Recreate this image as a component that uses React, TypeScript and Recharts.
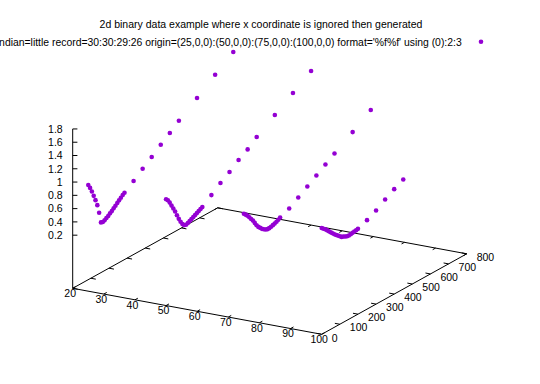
import React from 'react';
import { ScatterChart, Scatter, XAxis, YAxis, ReferenceLine } from 'recharts';

// ---- data ----
const recordX = [25, 50, 75, 100];
const yCoords = [0, 10, 20, 30, 40, 50, 60, 70, 80, 90, 100, 110, 120, 130, 140, 150, 160, 170, 180, 190, 200, 250, 300, 350, 400, 450, 500, 600, 700, 800];
const z1 = [1.0, 0.94, 0.87, 0.79, 0.71, 0.62, 0.49, 0.33, 0.32, 0.33, 0.35, 0.365, 0.39, 0.41, 0.435, 0.46, 0.485, 0.51, 0.535, 0.56, 0.58, 0.68, 0.79, 0.89, 1.0, 1.1, 1.21, 1.4, 1.6, 1.79];
const z2 = [1.0, 0.97, 0.92, 0.86, 0.8, 0.74, 0.67, 0.6, 0.54, 0.49, 0.46, 0.45, 0.46, 0.475, 0.49, 0.505, 0.52, 0.535, 0.55, 0.565, 0.58, 0.685, 0.79, 0.88, 0.985, 1.07, 1.18, 1.36, 1.54, 1.72];
const z3 = [1.0, 0.97, 0.94, 0.9, 0.86, 0.82, 0.77, 0.72, 0.68, 0.65, 0.62, 0.6, 0.58, 0.57, 0.57, 0.575, 0.585, 0.595, 0.605, 0.62, 0.64, 0.7, 0.79, 0.88, 0.97, 1.06, 1.15, 1.32, 1.5];
const z4 = [1.0, 0.975, 0.95, 0.92, 0.89, 0.86, 0.83, 0.8, 0.775, 0.75, 0.725, 0.7, 0.69, 0.675, 0.665, 0.66, 0.665, 0.67, 0.675, 0.68, 0.685, 0.74, 0.81, 0.9, 0.98, 1.05];
const zRecords = [z1, z2, z3, z4];

const xTicks = [20, 30, 40, 50, 60, 70, 80, 90, 100];
const yTicks = [0, 100, 200, 300, 400, 500, 600, 700, 800];
const zTicks = [0.2, 0.4, 0.6, 0.8, 1, 1.2, 1.4, 1.6, 1.8];
const zTickLabels = ['0.2', '0.4', '0.6', '0.8', '1', '1.2', '1.4', '1.6', '1.8'];

const titleText = '2d binary data example where x coordinate is ignored then generated';
const legendText = "'binary2' binary endian=little record=30:30:29:26 origin=(25,0,0):(50,0,0):(75,0,0):(100,0,0) format='%f%f' using (0):2:3";

// ---- view (projection) ----
const X_MIN = 20, X_MAX = 100, Y_MIN = 0, Y_MAX = 800, Z_BASE = -0.6, Z_TOP = 1.8;
const ORIGIN_PX = 72.7, ORIGIN_PY = 288.3;
const XX = 3.1125, XY = 0.575, YX = 0.18125, YY = 0.1006, ZS = 66.4;

const proj = (x: number, y: number, z: number) => ({
  px: ORIGIN_PX + (x - X_MIN) * XX + y * YX,
  py: ORIGIN_PY + (x - X_MIN) * XY - y * YY - (z - Z_BASE) * ZS,
});

const W = 540, H = 384;
const COLOR = '#9400d3';
const FONT = "'Liberation Sans', Arial, Helvetica, sans-serif";
const FS = 10.5;

const points = recordX.flatMap((x, i) =>
  zRecords[i].map((z, j) => proj(x, yCoords[j], z))
);

type Seg = { a: { px: number; py: number }; b: { px: number; py: number } };
const segs: Seg[] = [];
// base plane border
const c00 = proj(X_MIN, Y_MIN, Z_BASE), c10 = proj(X_MAX, Y_MIN, Z_BASE);
const c11 = proj(X_MAX, Y_MAX, Z_BASE), c01 = proj(X_MIN, Y_MAX, Z_BASE);
segs.push({ a: c00, b: c10 }, { a: c10, b: c11 }, { a: c11, b: c01 }, { a: c01, b: c00 });
// z axis
segs.push({ a: c00, b: proj(X_MIN, Y_MIN, Z_TOP) });
// x ticks (front and back)
xTicks.forEach((t) => {
  segs.push({ a: proj(t, Y_MIN, Z_BASE), b: proj(t, Y_MIN + 16, Z_BASE) });
  segs.push({ a: proj(t, Y_MAX, Z_BASE), b: proj(t, Y_MAX - 16, Z_BASE) });
});
// y ticks (right and left)
yTicks.forEach((t) => {
  segs.push({ a: proj(X_MAX, t, Z_BASE), b: proj(X_MAX - 1.6, t, Z_BASE) });
  segs.push({ a: proj(X_MIN, t, Z_BASE), b: proj(X_MIN + 1.6, t, Z_BASE) });
});
// z ticks
zTicks.forEach((t) => {
  const p = proj(X_MIN, Y_MIN, t);
  segs.push({ a: p, b: { px: p.px + 4.7, py: p.py } });
});

type Lbl = { px: number; py: number; text: string; anchor: string; fs: number };
const labels: Lbl[] = [];
xTicks.forEach((t) => {
  const p = proj(t, Y_MIN, Z_BASE);
  labels.push({ px: p.px - 2.5, py: p.py + 8.7, text: String(t), anchor: 'middle', fs: FS });
});
yTicks.forEach((t) => {
  const p = proj(X_MAX, t, Z_BASE);
  labels.push({ px: p.px + 10, py: p.py + 7.2, text: String(t), anchor: 'start', fs: FS });
});
zTicks.forEach((t, i) => {
  const p = proj(X_MIN, Y_MIN, t);
  labels.push({ px: p.px - 10, py: p.py + 3.8, text: zTickLabels[i], anchor: 'end', fs: FS });
});
labels.push({ px: 261, py: 27.5, text: titleText, anchor: 'middle', fs: FS });
labels.push({ px: 461.7, py: 45.8, text: legendText, anchor: 'end', fs: 10.4 });

const legendMarker = [{ px: 481, py: 41.7 }];

const TextShape = (props: any) => {
  const { cx, cy, payload } = props;
  return (
    <text x={cx} y={cy} textAnchor={payload.anchor} fontFamily={FONT} fontSize={payload.fs} fill="#000">
      {payload.text}
    </text>
  );
};

const Dot = (props: any) => <circle cx={props.cx} cy={props.cy} r={2.3} fill={COLOR} />;

export default function App() {
  return (
    <div style={{ position: 'absolute', left: 0, top: 0, width: W, height: H, background: '#fff' }}>
      <ScatterChart width={W} height={H} margin={{ top: 0, right: 0, bottom: 0, left: 0 }}>
        <XAxis type="number" dataKey="px" domain={[0, W]} allowDataOverflow hide />
        <YAxis type="number" dataKey="py" domain={[0, H]} reversed allowDataOverflow hide />
        {segs.map((s, i) => (
          <ReferenceLine
            key={i}
            segment={[{ x: s.a.px, y: s.a.py }, { x: s.b.px, y: s.b.py }]}
            stroke="#000"
            strokeWidth={1}
            ifOverflow="visible"
          />
        ))}
        <Scatter data={labels} shape={TextShape} isAnimationActive={false} />
        <Scatter data={points} shape={Dot} isAnimationActive={false} />
        <Scatter data={legendMarker} shape={Dot} isAnimationActive={false} />
      </ScatterChart>
    </div>
  );
}
